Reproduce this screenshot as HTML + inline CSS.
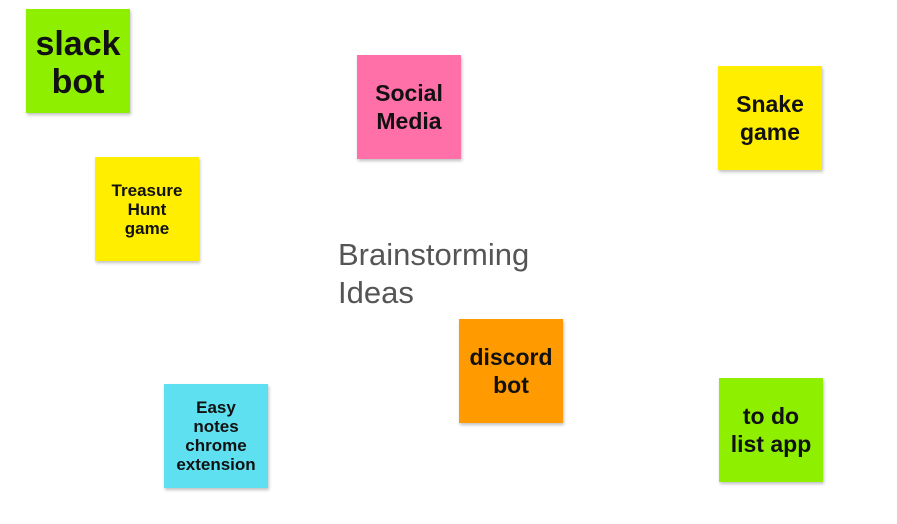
<!DOCTYPE html>
<html><head><meta charset="utf-8"><style>
body{margin:0;width:897px;height:524px;background:#fff;position:relative;overflow:hidden;font-family:"Liberation Sans",sans-serif}
.n{position:absolute;width:104px;height:104px;display:flex;align-items:center;justify-content:center;text-align:center;font-weight:bold;color:#111;box-shadow:1px 2px 3px rgba(0,0,0,0.25);line-height:28px;font-size:23px}
.t{position:absolute;left:338px;top:236px;font-size:31px;color:#555;line-height:38px}
</style></head><body>
<div class="n" style="left:26px;top:9px;background:#8ef000;font-size:34px;line-height:38px;padding-top:3px;box-sizing:border-box">slack<br>bot</div>
<div class="n" style="left:357px;top:55px;background:#ff70a8">Social<br>Media</div>
<div class="n" style="left:718px;top:66px;background:#ffee00">Snake<br>game</div>
<div class="n" style="left:95px;top:157px;background:#ffee00;font-size:17px;line-height:19px">Treasure<br>Hunt<br>game</div>
<div class="t">Brainstorming<br>Ideas</div>
<div class="n" style="left:459px;top:319px;background:#ff9a00">discord<br>bot</div>
<div class="n" style="left:164px;top:384px;background:#5ee0f0;font-size:17px;line-height:19px">Easy<br>notes<br>chrome<br>extension</div>
<div class="n" style="left:719px;top:378px;background:#8ef000">to do<br>list app</div>
</body></html>
